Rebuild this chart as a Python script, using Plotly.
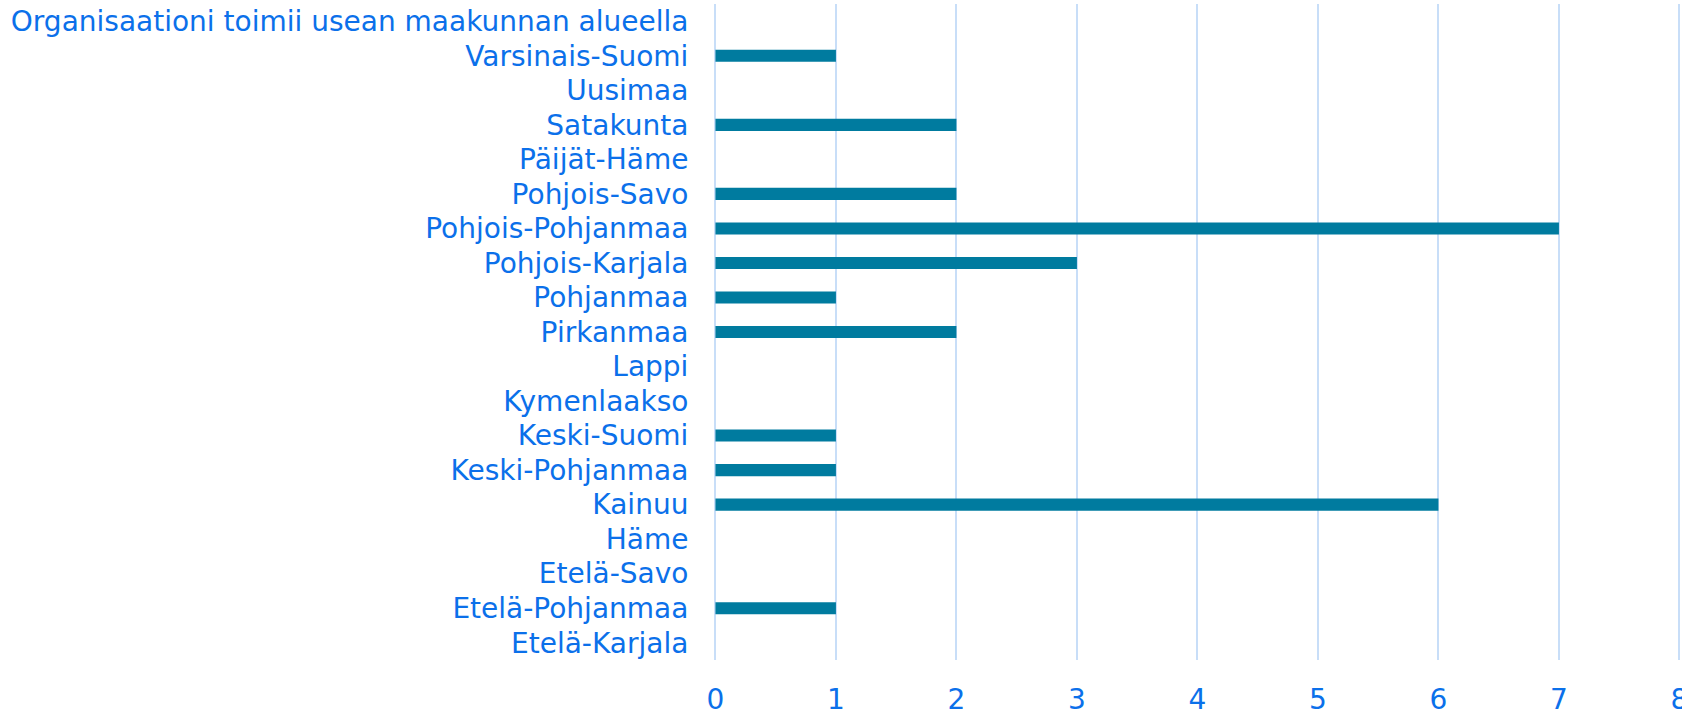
import plotly.graph_objects as go

categories = [
    "Organisaationi toimii usean maakunnan alueella",
    "Varsinais-Suomi",
    "Uusimaa",
    "Satakunta",
    "Päijät-Häme",
    "Pohjois-Savo",
    "Pohjois-Pohjanmaa",
    "Pohjois-Karjala",
    "Pohjanmaa",
    "Pirkanmaa",
    "Lappi",
    "Kymenlaakso",
    "Keski-Suomi",
    "Keski-Pohjanmaa",
    "Kainuu",
    "Häme",
    "Etelä-Savo",
    "Etelä-Pohjanmaa",
    "Etelä-Karjala",
]
values = [0, 1, 0, 2, 0, 2, 7, 3, 1, 2, 0, 0, 1, 1, 6, 0, 0, 1, 0]
x_ticks = [0, 1, 2, 3, 4, 5, 6, 7, 8]

TEXT = "#0b70ea"
BAR = "#007b9f"
GRID = "#c8def8"
FONT = "DejaVu Sans"

fig = go.Figure(
    go.Bar(
        x=values,
        y=categories,
        orientation="h",
        marker=dict(color=BAR, line=dict(width=0)),
        hoverinfo="x+y",
    )
)

fig.update_layout(
    width=1682,
    height=710,
    margin=dict(l=714, r=1, t=4, b=50),
    paper_bgcolor="white",
    plot_bgcolor="white",
    bargap=0.65,
    showlegend=False,
    font=dict(family=FONT, size=28, color=TEXT),
)

fig.update_xaxes(
    range=[-0.012, 8.013],
    tickvals=x_ticks,
    ticktext=[str(v) for v in x_ticks],
    showgrid=True,
    gridcolor=GRID,
    gridwidth=1.5,
    zeroline=True,
    zerolinecolor=GRID,
    zerolinewidth=1.5,
    showline=False,
    ticks="outside",
    ticklen=14,
    tickcolor="rgba(0,0,0,0)",
    tickfont=dict(family=FONT, size=28, color=TEXT),
    ticklabeloverflow="allow",
    automargin=False,
)

fig.update_yaxes(
    categoryorder="array",
    categoryarray=categories,
    autorange="reversed",
    showgrid=False,
    zeroline=False,
    showline=False,
    ticks="outside",
    ticklen=19,
    tickcolor="rgba(0,0,0,0)",
    tickfont=dict(family=FONT, size=28, color=TEXT),
    automargin=False,
)

fig.write_html(
    "out.html",
    config={"displayModeBar": False},
    post_script="document.body.style.margin='0';document.body.style.overflow='hidden';",
)
